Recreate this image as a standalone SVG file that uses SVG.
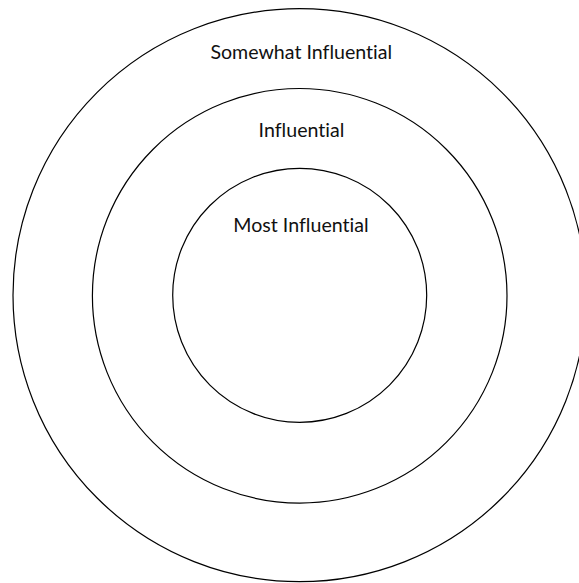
<svg xmlns="http://www.w3.org/2000/svg" width="579" height="583" viewBox="0 0 579 583">
<style>
.ring{fill:none;stroke:#000;stroke-width:1.2}
.lbl{font-family:Lato,"Open Sans","Liberation Sans",sans-serif;font-size:19.6px;fill:#111;text-anchor:middle;font-variant-ligatures:none;font-feature-settings:"liga" 0,"clig" 0,"dlig" 0}
</style>
<rect width="579" height="583" fill="#fff"/>
<g id="outer"><circle class="ring" cx="299.5" cy="295.2" r="286.5"/><text class="lbl" x="301.3" y="59.3">Somewhat Influential</text></g>
<g id="middle"><circle class="ring" cx="299.7" cy="295.8" r="207.3"/><text class="lbl" x="301.5" y="137.3">Influential</text></g>
<g id="inner"><circle class="ring" cx="299.7" cy="295.3" r="127"/><text class="lbl" x="301" y="231.7">Most Influential</text></g>
<g id="connectors"/>
</svg>
